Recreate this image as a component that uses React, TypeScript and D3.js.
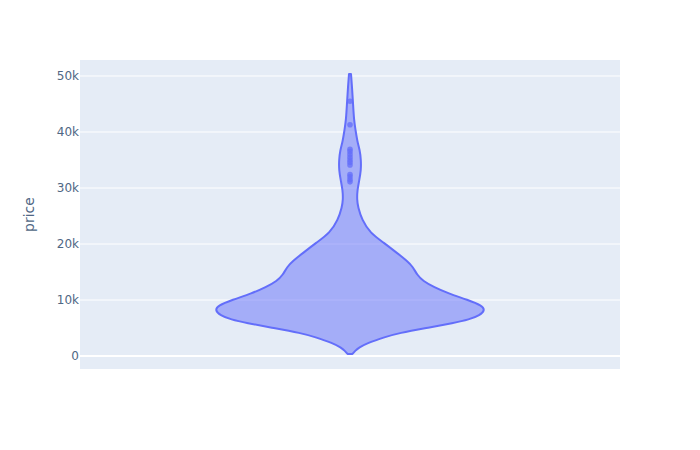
import React from "react";
import * as d3 from "d3";

// Violin profile: price level and half-width of the density outline
const profilePrice = [360, 900, 1500, 2300, 3400, 4100, 5000, 5900, 6500, 7300, 8200, 9000, 10000, 11200, 12300, 13400, 14500, 15900, 17000, 18400, 20200, 22000, 24300, 26600, 27900, 29600, 31400, 33200, 35000, 36800, 38300, 40400, 42100, 45200, 48100, 50350];
const profileWidth = [2.5, 5, 9, 17, 35, 49, 76, 104, 119, 130, 135, 132, 118, 98, 84, 73, 67, 63, 57, 47, 34, 20, 12, 8, 7, 7.3, 9.3, 11, 11, 9.8, 7.3, 5.5, 4, 3, 2, 1];

// Outlier prices
const outliers = [45500, 41300, 36900, 36500, 36000, 35500, 35000, 34600, 34100, 32400, 32000, 31500, 31100];

const yTicks = [0, 10000, 20000, 30000, 40000, 50000];
const yTickLabels = ["0", "10k", "20k", "30k", "40k", "50k"];
const yTitle = "price";

export default function App() {
  const W = 700, H = 450;
  const left = 80, right = 620, top = 60, bottom = 369;
  const y = d3.scaleLinear().domain([-2321, 52857]).range([bottom, top]);
  const cx = (left + right) / 2;
  const pts = profilePrice.map((p, i) => ({ p, w: profileWidth[i] }));
  const area = d3
    .area<{ p: number; w: number }>()
    .y((d) => y(d.p))
    .x0((d) => cx - d.w)
    .x1((d) => cx + d.w)
    .curve(d3.curveBasis);
  const font = '"DejaVu Sans", Verdana, sans-serif';
  return (
    <svg width={W} height={H} style={{ position: "absolute", left: 0, top: 0, background: "#fff" }}>
      <rect x={left} y={top} width={right - left} height={bottom - top} fill="#e5ecf6" />
      {yTicks.map((t, i) => (
        <g key={t}>
          <line
            x1={left}
            x2={right}
            y1={y(t)}
            y2={y(t)}
            stroke="#fff"
            strokeWidth={t === 0 ? 2 : 1}
          />
          <text
            x={left - 1}
            y={y(t)}
            dy="0.36em"
            textAnchor="end"
            fontSize={12}
            fontFamily={font}
            fill="#506784"
          >
            {yTickLabels[i]}
          </text>
        </g>
      ))}
      <path d={area(pts) || ""} fill="#636efa" fillOpacity={0.5} stroke="#636efa" strokeWidth={2} strokeLinejoin="round" />
      {outliers.map((o, i) => (
        <circle key={i} cx={cx} cy={y(o)} r={2.8} fill="#636efa" fillOpacity={0.75} />
      ))}
      <text
        transform={`translate(${29},${(top + bottom) / 2}) rotate(-90)`}
        textAnchor="middle"
        dy="0.36em"
        fontSize={14}
        fontFamily={font}
        fill="#506784"
      >
        {yTitle}
      </text>
    </svg>
  );
}
